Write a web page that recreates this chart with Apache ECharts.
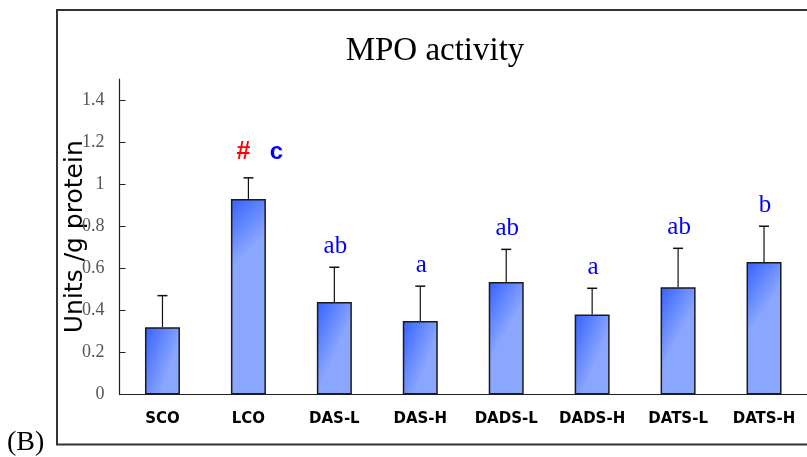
<!DOCTYPE html>
<html>
<head>
<meta charset="utf-8">
<style>
  html, body { margin: 0; padding: 0; background: #fff; }
  #chart { width: 807px; height: 457px; }
</style>
<script src="https://cdn.jsdelivr.net/npm/echarts@6/dist/echarts.min.js"></script>
</head>
<body>
<div id="chart"></div>
<script>
// MPO activity per group (mean, upper error)
const categories = ['SCO', 'LCO', 'DAS-L', 'DAS-H', 'DADS-L', 'DADS-H', 'DATS-L', 'DATS-H'];
const meanValues = [0.32, 0.93, 0.44, 0.35, 0.535, 0.38, 0.51, 0.63];
const errorValues = [0.15, 0.10, 0.165, 0.165, 0.155, 0.125, 0.185, 0.17];
// significance marks: '#' vs sham control, letters for group comparisons
const hashMarks = ['', '#', '', '', '', '', '', ''];
const groupLetters = ['', 'c', 'ab', 'a', 'ab', 'a', 'ab', 'b'];
const yTicks = [0, 0.2, 0.4, 0.6, 0.8, 1, 1.2, 1.4];

const chart = echarts.init(document.getElementById('chart'), null, { renderer: 'canvas' });

const barFill = new echarts.graphic.LinearGradient(0, 0, 1, 0.18, [
  { offset: 0, color: '#3462ff' },
  { offset: 1, color: '#8aa6ff' }
]);

function renderError(params, api) {
  const i = api.value(0);
  const mean = api.value(1);
  const err = api.value(2);
  const base = api.coord([i, mean]);
  const top = api.coord([i, mean + err]);
  const capHalf = 5;
  const children = [
    { type: 'line', shape: { x1: base[0], y1: base[1], x2: top[0], y2: top[1] },
      style: { stroke: '#111', lineWidth: 1.2 } },
    { type: 'line', shape: { x1: top[0] - capHalf, y1: top[1], x2: top[0] + capHalf, y2: top[1] },
      style: { stroke: '#111', lineWidth: 1.5 } }
  ];
  const hash = hashMarks[i];
  const letter = groupLetters[i];
  if (hash) {
    children.push({ type: 'text', x: top[0] - 5, y: top[1] - 13,
      style: { text: hash, fill: '#ff0000', font: 'bold 25px "Liberation Sans", Arial, sans-serif',
        align: 'center', verticalAlign: 'bottom' } });
    children.push({ type: 'text', x: top[0] + 28, y: top[1] - 13,
      style: { text: letter, fill: '#0000ff', font: 'bold 24px "Liberation Sans", Arial, sans-serif',
        align: 'center', verticalAlign: 'bottom' } });
  } else if (letter) {
    children.push({ type: 'text', x: top[0] + 1, y: top[1] - 8,
      style: { text: letter, fill: '#0000ff', font: '25px "Liberation Serif", "Times New Roman", serif',
        align: 'center', verticalAlign: 'bottom' } });
  }
  return { type: 'group', children: children };
}

const option = {
  animation: false,
  backgroundColor: '#fff',
  title: {
    text: 'MPO activity',
    left: 430,
    top: 30,
    textAlign: 'center',
    textStyle: { fontFamily: '"Liberation Serif", "Times New Roman", serif', fontSize: 33, fontWeight: 'normal', color: '#000' }
  },
  graphic: [
    { type: 'rect', shape: { x: 57, y: 10, width: 780, height: 434.5 },
      style: { fill: 'none', stroke: '#333', lineWidth: 2 }, z: -1 },
    { type: 'text', left: 7, top: 429,
      style: { text: '(B)', fill: '#000', font: '28px "Liberation Serif", "Times New Roman", serif' } }
  ],
  grid: { left: 119.5, top: 79, width: 698, bottom: 62.5, containLabel: false },
  xAxis: {
    type: 'category',
    data: categories,
    axisLine: { lineStyle: { color: '#222', width: 1.2 } },
    axisTick: { inside: true, length: 5, lineStyle: { color: '#222' } },
    axisLabel: { margin: 17, color: '#000', fontFamily: '"DejaVu Sans", sans-serif', fontSize: 15, fontWeight: 'bold' }
  },
  yAxis: {
    type: 'value',
    min: 0,
    max: 1.5,
    name: 'Units /g protein',
    nameLocation: 'middle',
    nameGap: 32,
    nameMoveOverlap: false,
    nameTextStyle: { fontFamily: '"DejaVu Sans", sans-serif', fontSize: 25, color: '#000' },
    splitLine: { show: false },
    axisLine: { show: true, lineStyle: { color: '#222', width: 1.2 } },
    axisTick: { show: true, inside: true, length: 6, customValues: yTicks, lineStyle: { color: '#222' } },
    axisLabel: { margin: 15, color: '#555', customValues: yTicks,
      fontFamily: '"Liberation Serif", "Times New Roman", serif', fontSize: 18 }
  },
  series: [
    {
      type: 'bar',
      data: meanValues,
      barWidth: 35,
      itemStyle: { color: barFill, borderColor: '#1a1a1a', borderWidth: 1.5 }
    },
    {
      type: 'custom',
      renderItem: renderError,
      data: categories.map((c, i) => [i, meanValues[i], errorValues[i]]),
      encode: { x: 0, y: [1, 2] },
      z: 3
    }
  ]
};

chart.setOption(option);
</script>
</body>
</html>
